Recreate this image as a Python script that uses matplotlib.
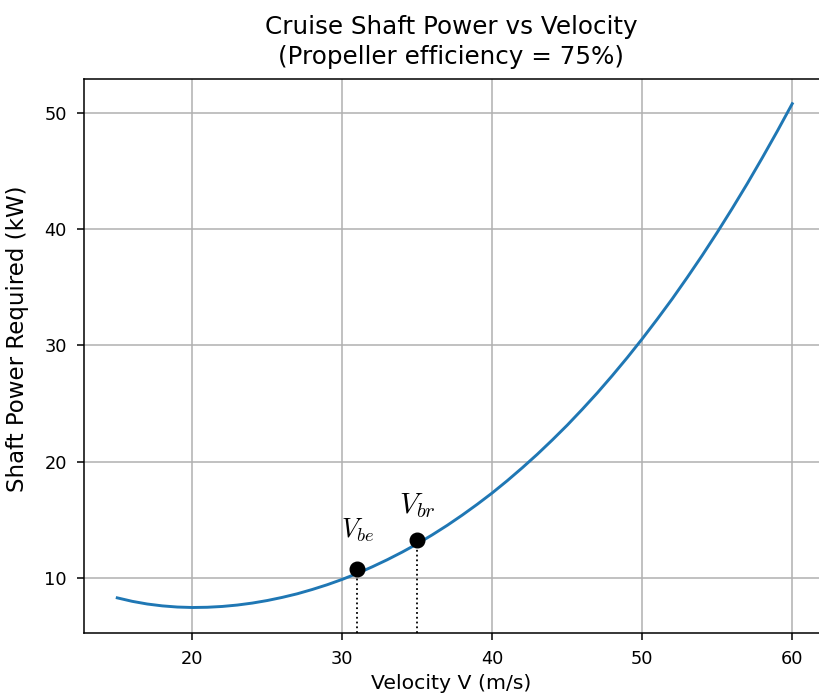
import matplotlib
matplotlib.use("Agg")
import matplotlib.pyplot as plt

# Curve values (1 m/s steps)
velocity = list(range(15, 61))
power_kw = [8.28, 7.98, 7.75, 7.59, 7.49, 7.45, 7.47, 7.54, 7.66, 7.83,
            8.05, 8.32, 8.63, 9.00, 9.41, 9.87, 10.38, 10.95, 11.56, 12.22,
            12.93, 13.70, 14.52, 15.40, 16.33, 17.31, 18.36, 19.47, 20.63, 21.86,
            23.14, 24.50, 25.91, 27.40, 28.95, 30.57, 32.26, 34.01, 35.85, 37.75,
            39.73, 41.79, 43.92, 46.14, 48.43, 50.80]

# Marked points
point_v = [31, 35]
point_p = [10.72, 13.22]
point_labels = [r"$V_{be}$", r"$V_{br}$"]
label_sizes = [19, 21]
label_y = [12.95, 14.95]

plt.rcParams['mathtext.fontset'] = 'cm'

W, H = 819, 695
fig = plt.figure(figsize=(W / 100, H / 100), dpi=100)
left_px, bottom_px, top_px = 83.5, 633.3, 79.3
ax_w = W - left_px
ax_h = bottom_px - top_px
ax = fig.add_axes([left_px / W, 1 - bottom_px / H, ax_w / W, ax_h / H])

ax.plot(velocity, power_kw, color='#1f77b4', lw=2.1, zorder=3)
ax.set_xlim(12.75, 12.75 + ax_w / 15.0)
ax.set_ylim(5.23, 52.9)
ymin = ax.get_ylim()[0]

for v, p, lab, fs, ly in zip(point_v, point_p, point_labels, label_sizes, label_y):
    ax.plot([v, v], [ymin, p], color='black', ls=':', lw=1.3, zorder=2)
    ax.plot([v], [p], 'o', color='black', markersize=10.5, zorder=4)
    ax.text(v, ly, lab, ha='center', va='bottom', fontsize=fs)

ax.set_xticks([20, 30, 40, 50, 60])
ax.set_yticks([10, 20, 30, 40, 50])
ax.grid(True, color='#b0b0b0', lw=1.1)
ax.set_axisbelow(True)
for s in ax.spines.values():
    s.set_linewidth(1.1)
ax.spines['right'].set_visible(False)
ax.tick_params(labelsize=12.8, length=5, width=1.1, pad=7)

ax.set_xlabel("Velocity V (m/s)", fontsize=14.7, labelpad=4)
ax.set_ylabel("Shaft Power Required (kW)", fontsize=16.5)
ax.yaxis.set_label_coords((29 - left_px) / ax_w, (bottom_px - 339) / ax_h)
ax.set_title("Cruise Shaft Power vs Velocity\n(Propeller efficiency = 75%)",
             fontsize=17.7, pad=11, linespacing=1.3)

fig.savefig("out.png", dpi=100)
